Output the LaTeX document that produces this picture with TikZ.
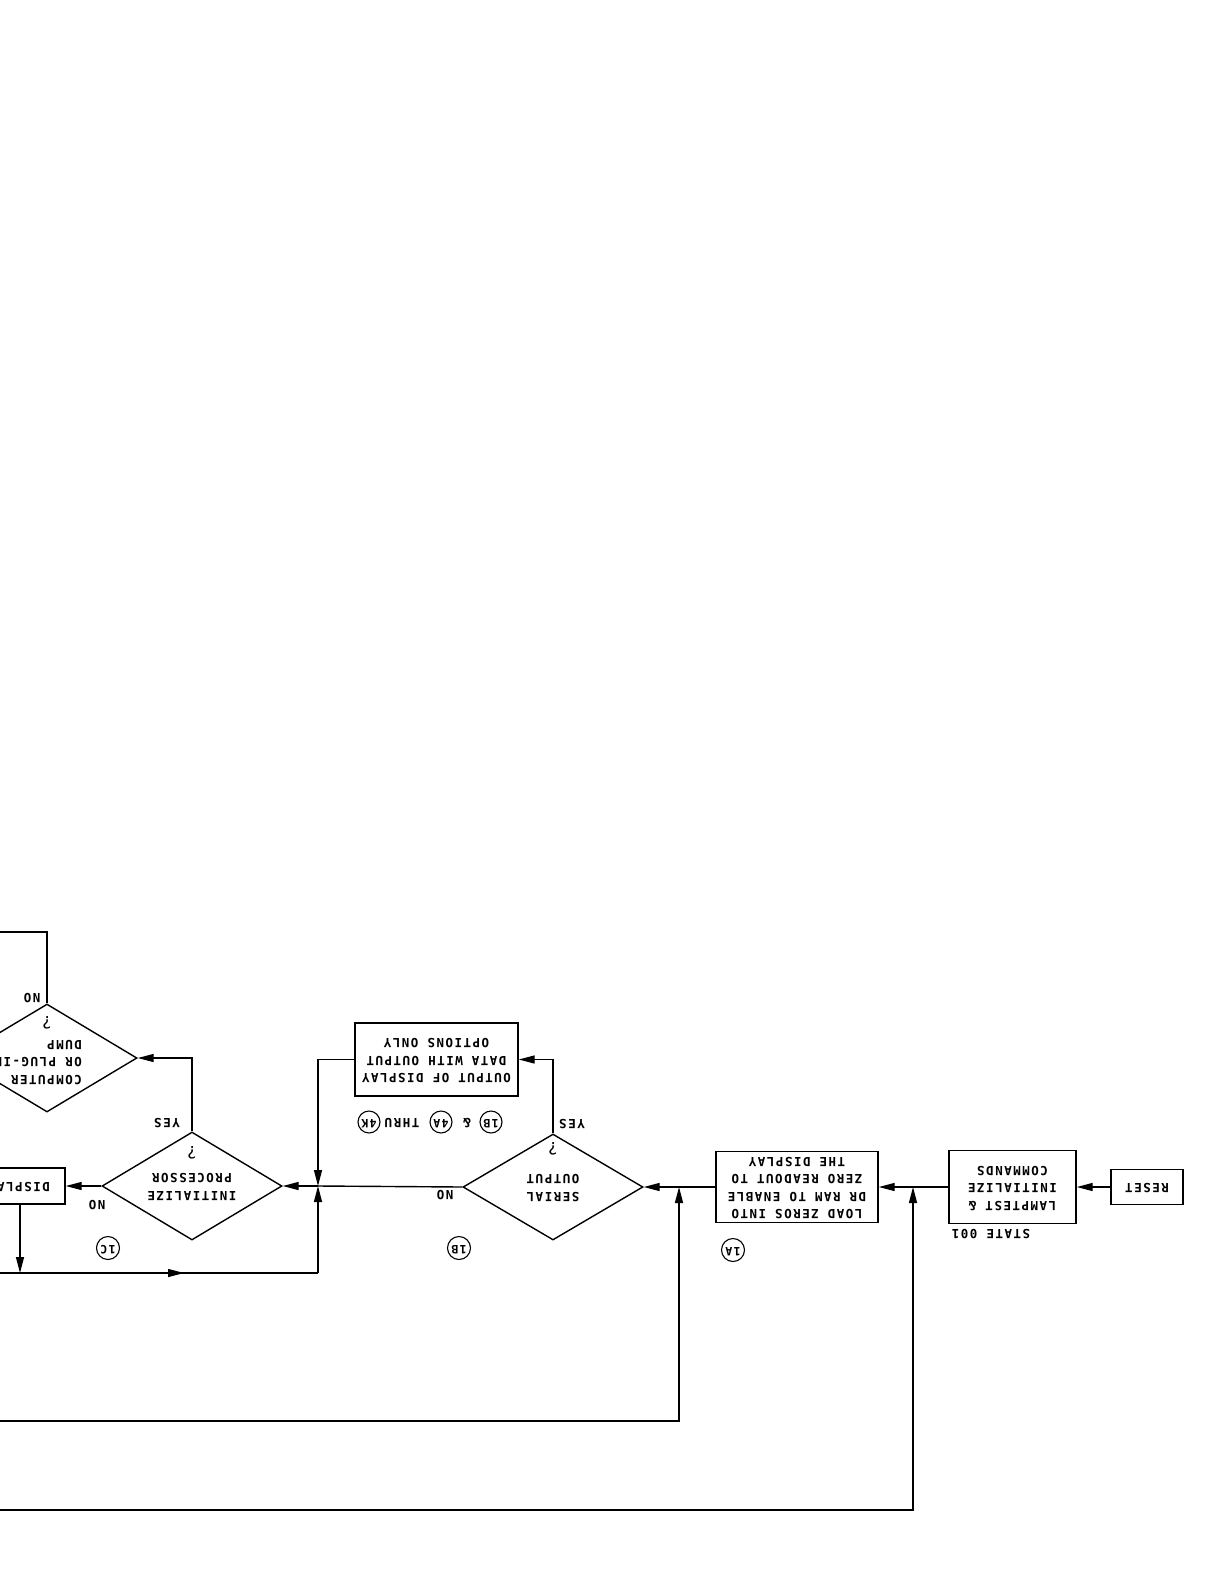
\documentclass[tikz,border=0pt]{standalone}
\usepackage{fontspec}
\usepackage{graphicx}
\usetikzlibrary{arrows.meta,shapes.geometric}
\newfontfamily\lett[LetterSpace=12]{DejaVu Sans Mono}
\newcommand{\flip}[2][c]{\rotatebox[origin=c]{180}{\begin{tabular}{@{}#1@{}}#2\end{tabular}}}
\tikzset{
  box/.style={draw, rectangle, line width=1.4pt, inner sep=0pt},
  dia/.style={draw, diamond, line width=1.4pt, inner sep=0pt, shape aspect=1.7,
    minimum width=180pt, minimum height=106pt},
  circ/.style={draw, circle, line width=1.1pt, minimum size=23pt, inner sep=0pt,
    font=\lett\bfseries\fontsize{11.5}{13}\selectfont},
  smallcirc/.style={circ, minimum size=22pt},
  txt/.style={inner sep=0pt},
  qmark/.style={inner sep=0pt, font=\lett\fontsize{17}{18}\selectfont},
  conn/.style={line width=1.4pt},
  arr/.style={-{Triangle[length=16pt,width=8pt]}}
}
\begin{document}
\begin{tikzpicture}[x=1pt,y=-1pt,
  every node/.style={font=\lett\bfseries\fontsize{12.5}{17.5}\selectfont}]
\useasboundingbox (0,0) rectangle (1204,1581);
\fill[white] (0,0) rectangle (1204,1581);
\clip (0,0) rectangle (1204,1581);

% boxes and decisions
\node[box, minimum width=72pt, minimum height=35pt] (reset) at (1147,1187) {\flip{RESET}};
\node[box, minimum width=127pt, minimum height=73pt] (lamp) at (1012.5,1187) {\flip{LAMPTEST \&\\INITIALIZE\\COMMANDS}};
\node[txt] (state) at (991,1233) {\flip{STATE 001}};
\node[box, minimum width=162pt, minimum height=71pt] (load) at (797,1187) {\flip{LOAD ZEROS INTO\\DR RAM TO ENABLE\\ZERO READOUT TO\\THE DISPLAY}};
\node[dia] (serial) at (553,1187) {\flip{SERIAL\\OUTPUT}};
\node[box, minimum width=163pt, minimum height=73pt] (output) at (436.5,1059.5) {\flip{OUTPUT OF DISPLAY\\DATA WITH OUTPUT\\OPTIONS ONLY}};
\node[dia, minimum height=108pt] (init) at (192,1186) {\flip{INITIALIZE\\PROCESSOR}};
\node[dia, minimum height=108pt] (comp) at (47,1058) {};
\node[txt, anchor=east] (compt) at (82,1061) {\flip[l]{COMPUTER\\OR PLUG-IN\\DUMP}};
\node[box, minimum width=140pt, minimum height=36pt] (disp) at (-5,1186) {};
\node[txt, anchor=east] (dispt) at (50,1186) {\flip{DISPLAY}};

% labels
\node[txt] (yes1) at (572,1123) {\flip{YES}};
\node[txt] (no1) at (445,1194) {\flip{NO}};
\node[qmark] (q1) at (553,1149) {\rotatebox[origin=c]{180}{?}};
\node[txt] (yes2) at (167,1122) {\flip{YES}};
\node[qmark] (q2) at (192,1153) {\rotatebox[origin=c]{180}{?}};
\node[txt] (no2) at (97,1204) {\flip{NO}};
\node[txt] (no3) at (32,997) {\flip{NO}};
\node[qmark] (q3) at (47,1023) {\rotatebox[origin=c]{180}{?}};

% circled references
\node[circ] (c1a) at (733,1250) {\flip{1A}};
\node[circ] (c1b) at (459,1248) {\flip{1B}};
\node[circ] (c1c) at (108,1248) {\flip{1C}};
\node[smallcirc] (r1b) at (491,1122) {\flip{1B}};
\node[txt] (ramp) at (467,1122) {\flip{\&}};
\node[smallcirc] (r4a) at (441,1122) {\flip{4A}};
\node[txt] (rthru) at (402,1122) {\flip{THRU}};
\node[smallcirc] (r4k) at (369,1122) {\flip{4K}};

% coordinates
\coordinate (J) at (318,1186);
\coordinate (cl) at (-5,932);
\coordinate (L0) at (-5,1273);
\coordinate (Lm) at (20,1273);
\coordinate (La) at (184,1273);
\coordinate (Lr) at (318,1273);
\coordinate (M0) at (-5,1421);
\coordinate (K1) at (679,1187);
\coordinate (N0) at (-5,1510);
\coordinate (K2) at (913,1187);

% connectors
\draw[conn,arr] (reset) -- (lamp);
\draw[conn,arr] (lamp) -- (load);
\draw[conn,arr] (load) -- (serial);
\draw[conn,arr] (serial.north) |- (output.east);
\draw[conn,arr] (output.west) -| (J);
\draw[conn] (serial.west) -- (J);
\draw[conn,arr] (J) -- (init.east);
\draw[conn,arr] (init.north) |- (comp.east);
\draw[conn] (comp.north) |- (cl);
\draw[conn,arr] (init.west) -- (disp.east);
\draw[conn,arr] (disp.south -| Lm) -- (Lm);
\draw[conn] (L0) -- (La);
\draw[conn,arr] (Lm) -- (La);
\draw[conn] (La) -- (Lr);
\draw[conn,arr] (Lr) -- (J);
\draw[conn,arr] (M0) -| (K1);
\draw[conn,arr] (N0) -| (K2);
\end{tikzpicture}
\end{document}
